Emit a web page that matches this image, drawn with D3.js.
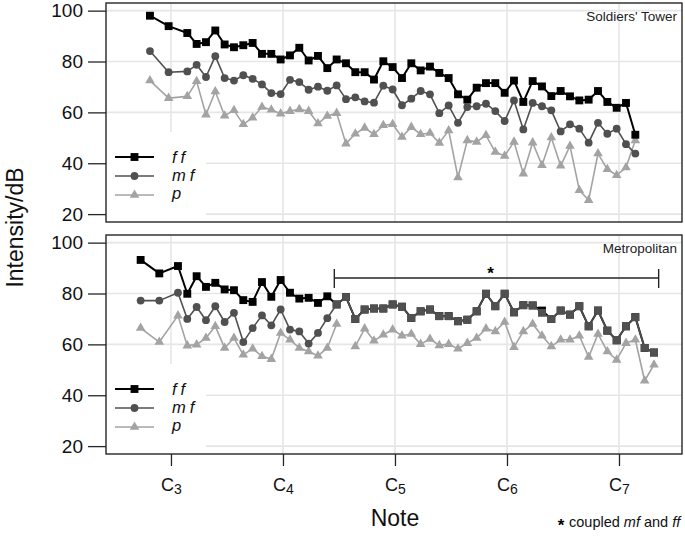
<!DOCTYPE html>
<html>
<head>
<meta charset="utf-8">
<title>Carillon bell intensity</title>
<script src="https://d3js.org/d3.v7.min.js"></script>
<style>
  body { margin: 0; background: #fff; }
  svg { font-family: "Liberation Sans", Arial, Helvetica, sans-serif; }
</style>
</head>
<body>
<div id="chart"></div>
<script>

// bell positions, in semitone steps (0 = lowest Soldiers' Tower bell)
var towerSteps = [0, 2, 4, 5, 6, 7, 8, 9, 10, 11, 12, 13, 14, 15, 16, 17, 18, 19, 20, 21, 22, 23, 24, 25, 26, 27,
                  28, 29, 30, 31, 32, 33, 34, 35, 36, 37, 38, 39, 40, 41, 42, 43, 44, 45, 46, 47, 48, 49, 50, 51, 52];
var towerFF = [98.0, 93.9, 91.2, 86.9, 87.6, 92.2, 86.7, 85.6, 86.4, 87.3, 83.0, 83.0, 80.8, 82.4, 85.4, 80.4, 82.2,
               77.4, 80.8, 79.3, 75.8, 75.8, 72.9, 80.1, 77.8, 73.5, 79.3, 76.5, 78.0, 75.5, 73.5, 67.1, 65.0, 69.7,
               71.5, 71.5, 67.7, 72.5, 64.1, 72.3, 70.2, 66.4, 68.4, 66.3, 64.7, 65.0, 68.4, 64.1, 61.8, 63.7, 51.2];
var towerMF = [84.1, 75.8, 76.1, 78.7, 73.9, 82.1, 73.5, 72.5, 74.6, 73.2, 71.0, 67.6, 67.2, 72.8, 71.9, 68.9, 70.1,
               68.5, 70.6, 65.2, 65.9, 64.3, 63.8, 70.5, 69.0, 62.8, 65.4, 68.4, 67.1, 59.7, 62.7, 55.9, 62.1, 62.4,
               63.4, 60.5, 56.6, 64.7, 53.3, 63.7, 62.4, 60.8, 52.5, 55.3, 53.6, 48.1, 55.9, 51.6, 53.6, 47.5, 43.8];
var towerP = [72.5, 65.6, 66.3, 72.2, 59.1, 68.2, 58.7, 60.8, 55.3, 57.9, 62.1, 61.0, 59.5, 60.5, 61.2, 60.5, 55.6,
              58.6, 59.7, 47.7, 51.6, 53.9, 51.4, 54.9, 55.3, 50.3, 54.2, 51.4, 51.9, 48.0, 52.9, 34.4, 49.0, 48.4,
              51.0, 44.4, 42.9, 48.4, 35.9, 48.1, 39.2, 50.1, 39.0, 46.8, 29.4, 25.5, 43.8, 37.6, 35.3, 38.3, 49.0];

var metroSteps = [-1, 1, 3, 4, 5, 6, 7, 8, 9, 10, 11, 12, 13, 14, 15, 16, 17, 18, 19, 20, 21, 22, 23, 24, 25, 26, 27,
                  28, 29, 30, 31, 32, 33, 34, 35, 36, 37, 38, 39, 40, 41, 42, 43, 44, 45, 46, 47, 48, 49, 50, 51, 52,
                  53, 54];
var metroFF = [93.2, 87.9, 90.8, 79.9, 86.8, 82.6, 84.2, 81.6, 81.3, 77.4, 76.7, 84.5, 78.7, 85.3, 80.3, 78.0, 78.3,
               76.3, 78.9, 75.7, 78.6, 70.0, 73.7, 74.1, 74.1, 75.7, 74.8, 70.4, 73.0, 73.7, 71.1, 71.1, 69.1, 69.7,
               73.0, 79.9, 75.0, 79.9, 72.6, 75.4, 75.3, 73.3, 70.0, 73.3, 71.7, 75.0, 67.1, 73.3, 65.4, 61.6, 67.1,
               70.7, 58.6, 56.8];
var metroMF = [77.2, 77.2, 80.3, 70.0, 74.7, 69.5, 75.0, 68.8, 72.4, 60.9, 66.4, 71.4, 67.5, 73.7, 65.8, 65.1, 60.3,
               64.5, 70.3, 75.7, 78.6, 70.0, 73.7, 74.1, 74.1, 75.7, 74.8, 70.4, 73.0, 73.7, 71.1, 71.1, 69.1, 69.7,
               73.0, 79.9, 75.0, 79.9, 72.6, 75.4, 75.3, 72.4, 70.0, 73.3, 71.7, 75.0, 67.1, 73.3, 65.4, 61.6, 67.1,
               70.7, 58.6, 56.8];
var metroP = [66.4, 60.9, 71.3, 59.5, 59.9, 62.5, 67.1, 58.6, 62.5, 55.9, 58.3, 55.3, 54.2, 64.5, 61.8, 58.6, 57.2,
              55.5, 58.6, 68.0, null, 59.2, 66.2, 61.4, 63.8, 65.8, 63.4, 64.1, 60.1, 62.1, 59.6, 60.1, 58.3, 60.5,
              62.5, 66.2, 65.1, 68.8, 58.9, 65.1, 68.0, 63.4, 59.2, 61.8, 61.8, 63.4, 55.0, 64.1, 57.2, 53.9, 60.5,
              61.8, 45.7, 52.0];

// mf and ff coupled on the Metropolitan bells from this step up
var coupledFrom = 20;
var coupledSpan = [19.75, 54.5];
var coupledMark = 36.5;

var noteTicks = [2.25, 14.25, 26.25, 38.25, 50.25];
var noteLabels = ["C3", "C4", "C5", "C6", "C7"];
var dbTicks = [20, 40, 60, 80, 100];
var dynamics = ["ff", "mf", "p"];

var styles = {
  ff: { color: "#000000", width: 2, shape: d3.symbolSquare, size: 62 },
  mf: { color: "#505050", width: 1.6, shape: d3.symbolCircle, size: 48 },
  p:  { color: "#a3a3a3", width: 1.6, shape: d3.symbolTriangle, size: 40 }
};
var legendDy = { ff: 5.5, mf: 5, p: 4 };

var left = 106, right = 682, panelH = 219;

var svg = d3.select("#chart").append("svg")
    .attr("width", 685)
    .attr("height", 546);

var x = d3.scaleLinear().domain([-4.71, 57]).range([left, right]);

var panels = [
  { name: "Soldiers' Tower", top: 3, steps: towerSteps, ff: towerFF, mf: towerMF, p: towerP },
  { name: "Metropolitan", top: 235, steps: metroSteps, ff: metroFF, mf: metroMF, p: metroP, coupled: true }
];

panels.forEach(function(pn){

  var top = pn.top, bottom = top + panelH;
  var y = d3.scaleLinear().domain([16.9, 103]).range([bottom, top]);
  var g = svg.append("g");

  // grid
  g.selectAll(".hgrid").data(dbTicks).enter().append("line")
      .attr("x1", left).attr("x2", right)
      .attr("y1", function(d){ return y(d); }).attr("y2", function(d){ return y(d); })
      .attr("stroke", "#e6e6e6").attr("stroke-width", 1.6);
  g.selectAll(".vgrid").data(noteTicks).enter().append("line")
      .attr("x1", function(d){ return x(d); }).attr("x2", function(d){ return x(d); })
      .attr("y1", top).attr("y2", bottom)
      .attr("stroke", "#e6e6e6").attr("stroke-width", 1.6);

  // legend background
  g.append("rect")
      .attr("x", left).attr("y", top + 129)
      .attr("width", 100).attr("height", panelH - 129)
      .attr("fill", "#fff");

  var rows = pn.steps.map(function(s, i){
    return { s: s, ff: pn.ff[i], mf: pn.mf[i], p: pn.p[i] };
  });

  ["p", "ff", "mf"].forEach(function(key){
    var st = styles[key];
    var line = d3.line()
        .defined(function(d){ return d[key] != null; })
        .x(function(d){ return x(d.s); })
        .y(function(d){ return y(d[key]); });

    g.append("path")
        .datum(rows)
        .attr("d", line)
        .attr("fill", "none")
        .attr("stroke", st.color)
        .attr("stroke-width", st.width)
        .attr("stroke-linejoin", "round");

    g.selectAll(".pt-" + key)
        .data(rows.filter(function(d){ return d[key] != null; }))
        .enter().append("path")
        .attr("transform", function(d){ return "translate(" + x(d.s) + "," + y(d[key]) + ")"; })
        .attr("d", function(d){
          var coupled = pn.coupled && key === "mf" && d.s >= coupledFrom;
          return d3.symbol().type(coupled ? d3.symbolSquare : st.shape).size(coupled ? 62 : st.size)();
        })
        .attr("fill", st.color);
  });

  // legend
  dynamics.forEach(function(key, i){
    var st = styles[key], ly = top + 154 + i * 19;
    g.append("line")
        .attr("x1", 115).attr("x2", 154).attr("y1", ly).attr("y2", ly)
        .attr("stroke", st.color).attr("stroke-width", st.width);
    g.append("path")
        .attr("transform", "translate(134.5," + ly + ")")
        .attr("d", d3.symbol().type(st.shape).size(st.size)())
        .attr("fill", st.color);
    g.append("text")
        .attr("x", 172).attr("y", ly + legendDy[key])
        .attr("font-size", 16.5).attr("font-style", "italic")
        .attr("letter-spacing", "4px")
        .attr("fill", "#111")
        .text(key);
  });

  // panel border
  g.append("rect")
      .attr("x", left).attr("y", top)
      .attr("width", right - left).attr("height", panelH)
      .attr("fill", "none").attr("stroke", "#262626").attr("stroke-width", 1.4);

  g.append("text")
      .attr("x", 677).attr("y", top + 18)
      .attr("text-anchor", "end")
      .attr("font-size", 13.5)
      .attr("fill", "#222")
      .text(pn.name);

  var ga = g.append("g")
      .attr("transform", "translate(" + left + ",0)")
      .call(d3.axisLeft(y).tickValues(dbTicks).tickSize(18).tickPadding(5));
  ga.select(".domain").remove();
  ga.attr("font-size", 19).attr("font-family", null);
  ga.selectAll("line").attr("stroke", "#262626").attr("stroke-width", 1.3);
  ga.selectAll("text").attr("fill", "#111");

  if (pn.coupled) {
    var bx1 = x(coupledSpan[0]), bx2 = x(coupledSpan[1]), by = top + 43;
    g.append("path")
        .attr("d", "M" + bx1 + "," + (by - 9) + "V" + (by + 10) + "M" + bx1 + "," + by + "H" + bx2 +
                   "M" + bx2 + "," + (by - 9) + "V" + (by + 10))
        .attr("fill", "none").attr("stroke", "#262626").attr("stroke-width", 1.4);
    g.append("text")
        .attr("x", x(coupledMark)).attr("y", top + 43.5)
        .attr("text-anchor", "middle")
        .attr("font-size", 17).attr("font-weight", "bold")
        .text("*");

    var gx = g.append("g")
        .attr("transform", "translate(0," + bottom + ")")
        .call(d3.axisBottom(x).tickValues(noteTicks).tickSize(12).tickFormat(""));
    gx.select(".domain").remove();
    gx.attr("font-family", null);
    gx.selectAll("line").attr("stroke", "#262626").attr("stroke-width", 1.3);
    gx.selectAll(".tick text").each(function(d, i){
      var t = d3.select(this).attr("y", 37).attr("dy", null).attr("fill", "#111").attr("font-size", 18).text(null);
      t.append("tspan").text(noteLabels[i].charAt(0));
      t.append("tspan").attr("font-size", 14).attr("dy", 3).text(noteLabels[i].slice(1));
    });
  }
});

svg.append("text")
    .attr("transform", "translate(22.5,227.5) rotate(-90)")
    .attr("text-anchor", "middle")
    .attr("font-size", 23)
    .attr("fill", "#111")
    .text("Intensity/dB");

svg.append("text")
    .attr("x", 395).attr("y", 525.5)
    .attr("text-anchor", "middle")
    .attr("font-size", 23)
    .attr("fill", "#111")
    .text("Note");

svg.append("text")
    .attr("x", 561).attr("y", 531)
    .attr("text-anchor", "middle")
    .attr("font-size", 17).attr("font-weight", "bold")
    .text("*");

var note = svg.append("text")
    .attr("x", 569).attr("y", 527)
    .attr("font-size", 14.5)
    .attr("fill", "#111");
note.append("tspan").text("coupled ");
note.append("tspan").attr("font-style", "italic").text("mf");
note.append("tspan").text(" and ");
note.append("tspan").attr("font-style", "italic").text("ff");

</script>
</body>
</html>
